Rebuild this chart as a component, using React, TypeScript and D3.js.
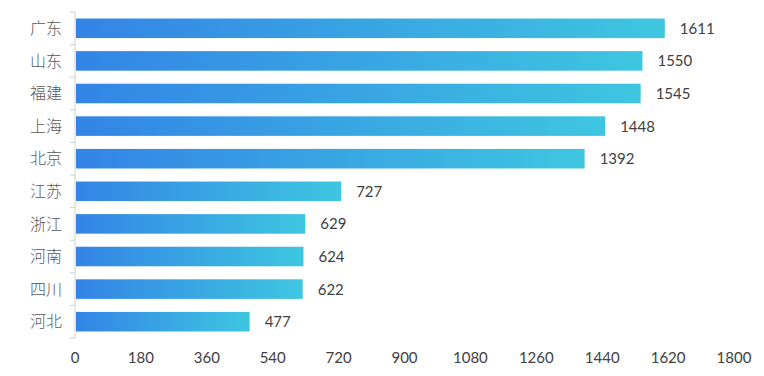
import React from "react";
import * as d3 from "d3";

const categories = ["广东", "山东", "福建", "上海", "北京", "江苏", "浙江", "河南", "四川", "河北"];
const values = [1611, 1550, 1545, 1448, 1392, 727, 629, 624, 622, 477];
const xTicks = [0, 180, 360, 540, 720, 900, 1080, 1260, 1440, 1620, 1800];

export default function App() {
  const W = 764, H = 376;
  const x = d3.scaleLinear().domain([0, 1800]).range([75, 734]);
  const y = d3.scaleBand<string>().domain(categories).range([12, 338]).paddingInner(0.4).paddingOuter(0.2);
  const bandStep = (338 - 12) / categories.length;
  const boundaries = d3.range(categories.length + 1).map((i) => 12 + i * bandStep);
  const numFont = "Lato, 'Open Sans', sans-serif";
  return (
    <svg width={W} height={H} style={{ position: "absolute", left: 0, top: 0 }}>
      <defs>
        {values.map((v, i) => (
          <linearGradient key={i} id={`g${i}`} x1="0" x2="1" y1="0" y2="0">
            <stop offset="0%" stopColor="#3384e6" />
            <stop offset="100%" stopColor="#3ec6e0" />
          </linearGradient>
        ))}
      </defs>
      <line x1={x(0)} x2={x(0)} y1={12} y2={338} stroke="#d0d0d0" strokeWidth={1} />
      {boundaries.map((b, i) => (
        <line key={i} x1={x(0) - 5} x2={x(0)} y1={b} y2={b} stroke="#d0d0d0" />
      ))}
      {categories.map((c, i) => (
        <g key={c}>
          <rect x={x(0) + 1} y={y(c)!} width={x(values[i]) - x(0) - 1} height={y.bandwidth()} fill={`url(#g${i})`} />
          <text x={x(values[i]) + 15} y={y(c)! + y.bandwidth() / 2} dy="0.36em" fontFamily={numFont} fontSize={15} fill="#404040">{values[i]}</text>
          <text x={62} y={y(c)! + y.bandwidth() / 2} dy="0.36em" textAnchor="end" fontFamily="'Noto Sans CJK SC', sans-serif" fontSize={16} fontWeight={300} fill="#595959">{c}</text>
        </g>
      ))}
      {xTicks.map((t) => (
        <text key={t} x={x(t)} y={363} textAnchor="middle" fontFamily={numFont} fontSize={15} fill="#404040">{t}</text>
      ))}
    </svg>
  );
}
